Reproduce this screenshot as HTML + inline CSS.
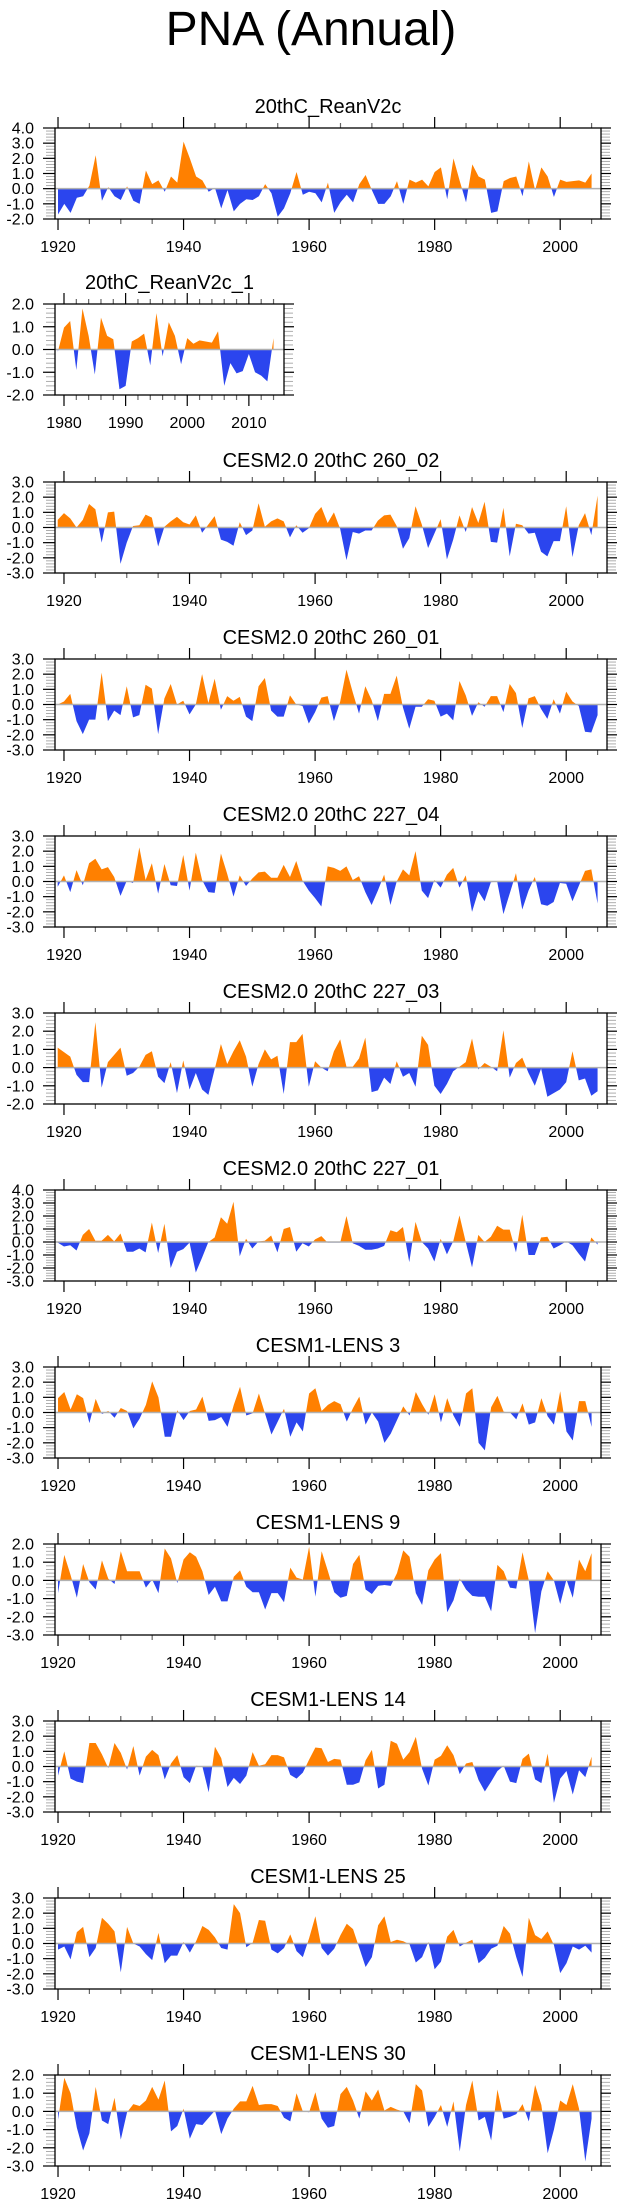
<!DOCTYPE html>
<html><head><meta charset="utf-8"><style>
body{margin:0;background:#fff;}
svg{display:block;font-family:"Liberation Sans",Arial,sans-serif;}
</style></head><body>
<svg id="chart" width="623" height="2208" viewBox="0 0 623 2208" xmlns="http://www.w3.org/2000/svg">
<text x="311" y="45" font-size="48" text-anchor="middle">PNA (Annual)</text>
</svg>
<script>
const titles=["20thC_ReanV2c","20thC_ReanV2c_1","CESM2.0 20thC 260_02","CESM2.0 20thC 260_01","CESM2.0 20thC 227_04","CESM2.0 20thC 227_03","CESM2.0 20thC 227_01","CESM1-LENS 3","CESM1-LENS 9","CESM1-LENS 14","CESM1-LENS 25","CESM1-LENS 30"];
const startYears=[1920,1979,1919,1919,1919,1919,1919,1920,1920,1920,1920,1920];
const yMins=[-2,-2,-3,-3,-3,-2,-3,-3,-3,-3,-3,-3];
const yMaxs=[4,2,3,3,3,3,4,3,2,3,3,2];
const xTickYears=[[1920,1940,1960,1980,2000],[1980,1990,2000,2010],[1920,1940,1960,1980,2000],[1920,1940,1960,1980,2000],[1920,1940,1960,1980,2000],[1920,1940,1960,1980,2000],[1920,1940,1960,1980,2000],[1920,1940,1960,1980,2000],[1920,1940,1960,1980,2000],[1920,1940,1960,1980,2000],[1920,1940,1960,1980,2000],[1920,1940,1960,1980,2000]];
const xDomains=[[1919.52,2006.5],[1978.54,2015.7],[1918.57,2006.5],[1918.57,2006.5],[1918.57,2006.5],[1918.57,2006.5],[1918.57,2006.5],[1919.52,2006.5],[1919.52,2006.5],[1919.52,2006.5],[1919.52,2006.5],[1919.52,2006.5]];
const s1=[-1.7,-1.0,-1.6,-0.6,-0.5,0.2,2.2,-0.8,0.1,-0.5,-0.75,0.15,-0.8,-1.0,1.2,0.3,0.55,-0.2,0.8,0.4,3.1,2.0,0.8,0.55,-0.2,0.05,-1.3,-0.1,-1.5,-1.0,-0.7,-0.75,-0.5,0.3,-0.3,-1.85,-1.3,-0.3,1.1,-0.4,-0.2,-0.3,-0.9,0.4,-1.6,-0.9,-0.4,-0.9,0.3,0.9,-0.1,-1.0,-1.0,-0.5,0.5,-1.0,0.6,0.4,0.6,0.15,1.1,1.4,-0.7,2.0,0.5,-0.9,1.6,0.8,0.6,-1.6,-1.5,0.5,0.7,0.8,-0.5,1.8,-0.1,1.4,0.8,-0.55,0.6,0.45,0.5,0.55,0.4,1.0];
const s2=[-0.1,0.96,1.25,-0.9,1.8,0.6,-1.1,1.4,0.6,0.45,-1.75,-1.6,0.35,0.5,0.7,-0.7,1.6,-0.3,1.2,0.6,-0.65,0.5,0.25,0.4,0.35,0.3,0.8,-1.6,-0.6,-1.05,-0.95,-0.2,-1.0,-1.15,-1.4,0.5];
const s3=[0.5,0.95,0.6,0.0,0.5,1.55,1.2,-1.0,1.0,1.05,-2.4,-1.0,0.1,0.15,0.85,0.65,-1.25,0.05,0.4,0.7,0.35,0.2,0.8,-0.35,0.2,0.75,-0.8,-0.95,-1.2,0.35,-0.5,-0.2,1.6,0.05,0.4,0.6,0.4,-0.65,0.15,-0.35,-0.05,0.9,1.35,0.3,1.0,-0.1,-2.15,-0.3,-0.4,-0.2,-0.2,0.45,0.8,0.85,0.1,-1.4,-0.7,1.4,0.2,-1.35,-0.4,0.55,-2.1,-0.8,0.8,-0.3,1.35,0.3,1.7,-0.95,-1.0,1.3,-1.9,0.25,0.15,-0.4,-0.35,-1.6,-1.9,-0.9,-0.9,1.4,-1.95,0.15,0.95,-0.5,2.1];
const s4=[0.0,0.2,0.7,-1.1,-1.95,-1.0,-1.0,2.1,-1.1,-0.4,-0.7,1.2,-0.85,-0.7,1.3,1.05,-1.95,0.4,1.35,0.0,0.25,-0.65,0.0,2.0,0.1,1.7,-0.35,0.55,0.25,0.5,-0.8,-1.1,1.2,1.75,-0.4,-0.8,-0.8,0.6,0.0,-0.1,-1.25,-0.5,0.45,0.55,-1.1,0.2,2.3,0.8,-0.6,1.2,0.3,-1.1,0.7,0.7,1.9,-0.2,-1.6,-0.15,-0.15,0.35,0.25,-0.8,-0.6,-1.05,1.55,0.6,-0.75,0.15,-0.15,0.55,0.55,-0.5,1.35,0.75,-1.55,0.4,0.55,-0.3,-0.95,0.35,-0.6,0.85,0.2,-0.1,-1.8,-1.85,-0.7];
const s5=[-0.35,0.4,-0.7,0.75,-0.25,1.2,1.5,0.8,0.95,0.3,-0.95,0.05,-0.1,2.25,0.1,1.2,-0.8,1.15,-0.25,-0.3,1.75,-0.6,1.9,0.1,-0.7,-0.75,1.85,0.5,-1.0,0.4,-0.3,0.2,0.6,0.65,0.25,0.25,1.1,0.3,1.35,0.05,-0.6,-1.1,-1.65,1.0,0.9,0.7,1.0,0.1,0.35,-0.7,-1.55,-0.6,0.45,-1.55,0.0,0.8,0.4,2.0,-0.6,-1.1,0.1,-0.4,0.45,0.9,-0.4,0.4,-2.0,-0.65,-1.3,-0.05,0.0,-2.15,-0.8,0.55,-1.85,-0.6,0.3,-1.5,-1.6,-1.35,-0.1,-0.15,-1.3,-0.3,0.7,0.8,-1.45];
const s6=[1.1,0.85,0.6,-0.4,-0.8,-0.8,2.5,-1.1,0.3,0.7,1.1,-0.45,-0.3,0.05,0.7,0.9,-0.5,-0.85,0.3,-1.4,0.4,-1.2,-0.3,-1.2,-1.5,-0.1,1.3,0.2,0.9,1.5,0.6,-1.05,0.2,1.0,0.45,0.65,-1.45,1.4,1.4,1.85,-1.05,0.35,0.0,-0.2,0.9,1.55,0.05,0.05,0.5,1.65,-1.35,-1.25,-0.55,-0.9,0.35,-0.5,-0.3,-1.05,1.75,1.25,-1.0,-1.45,-0.9,-0.2,0.05,0.3,1.6,-0.1,0.25,0.05,-0.2,2.05,-0.55,0.25,0.55,-0.3,-1.0,-0.05,-1.6,-1.4,-1.2,-0.8,0.9,-0.7,-0.6,-1.55,-1.3];
const s7=[-0.05,-0.35,-0.25,-0.65,0.55,1.0,0.1,0.1,0.55,0.05,0.65,-0.75,-0.75,-0.5,-0.8,1.5,-0.85,1.4,-2.0,-0.75,-0.55,-0.05,-2.35,-1.2,0.0,0.35,1.9,1.4,3.1,-1.1,0.25,-0.5,0.05,0.1,0.5,-0.8,1.0,1.15,-0.75,-0.1,-0.35,0.2,0.45,-0.05,-0.05,-0.05,2.0,-0.1,-0.3,-0.6,-0.6,-0.5,-0.3,0.9,0.75,1.15,-1.55,1.55,0.0,-0.5,-1.5,0.25,-0.95,0.05,2.05,0.0,-1.95,0.55,0.0,0.4,1.25,0.95,0.95,-0.8,2.1,-1.0,-1.0,0.35,0.4,-0.5,-0.25,0.05,-0.25,-0.9,-1.5,0.35,-0.2];
const s8=[0.95,1.35,0.2,1.2,0.95,-0.7,0.9,-0.1,0.1,-0.35,0.3,0.1,-1.05,-0.4,0.5,2.05,1.0,-1.6,-1.6,0.15,-0.5,0.1,0.2,1.05,-0.55,-0.5,-0.3,-0.95,0.5,1.7,-0.2,-0.05,1.25,-0.1,-1.45,-0.6,0.25,-1.6,-0.65,-1.25,1.25,1.6,0.1,0.5,0.75,0.55,-0.6,0.3,1.05,-0.8,0.0,-0.6,-2.0,-1.4,-0.5,0.4,-0.2,1.35,0.55,-0.15,1.2,-0.65,0.95,-0.2,-0.95,1.25,1.6,-2.0,-2.5,0.35,1.1,0.05,0.0,-0.45,0.6,-0.8,-0.65,0.95,-0.25,-0.8,1.4,-1.25,-1.85,0.75,0.75,-0.95];
const s9=[-0.7,1.4,0.3,-0.95,0.9,-0.1,-0.5,1.1,0.1,-0.2,1.6,0.5,0.5,0.5,-0.4,0.05,-0.7,1.75,1.2,-0.15,1.15,1.55,1.3,0.5,-0.8,-0.35,-1.15,-1.15,0.2,0.55,-0.35,-0.65,-0.65,-1.6,-0.7,-0.7,-1.2,0.7,0.15,0.05,1.85,-0.9,1.6,0.5,-0.65,-0.95,-0.85,0.9,1.4,-0.5,-0.75,-0.3,-0.25,-0.3,0.4,1.65,1.3,-0.7,-1.35,0.55,1.15,1.5,-1.75,-1.1,0.1,-0.5,-0.85,-0.9,-0.9,-1.7,0.85,0.5,-0.4,-0.45,1.55,0.0,-2.9,-0.6,0.5,0.0,-1.3,0.05,-0.95,1.15,0.5,1.5];
const s10=[-0.6,1.0,-0.8,-1.0,-1.1,1.55,1.55,0.8,-0.1,1.55,0.9,-0.2,1.35,-0.6,0.65,1.1,0.75,-0.85,0.2,0.75,-0.7,-1.1,0.05,0.0,-1.7,1.3,0.55,-1.35,-0.75,-1.15,-0.6,0.95,0.05,0.15,0.75,0.75,0.6,-0.55,-0.8,-0.4,0.45,1.25,1.2,0.3,0.5,0.45,-1.2,-1.2,-1.05,0.4,1.1,-1.45,-1.2,1.7,1.5,0.45,0.95,1.95,-0.15,-1.25,0.45,0.7,1.4,0.75,-0.5,0.2,0.3,-0.9,-1.65,-1.0,-0.3,0.05,-1.0,-1.1,0.5,0.85,-0.85,-1.1,0.85,-2.4,-0.8,-0.3,-1.85,-0.25,-0.7,0.65];
const s11=[-0.4,-0.2,-1.05,0.75,1.1,-0.9,-0.3,1.7,1.3,0.8,-1.9,1.1,0.0,-0.2,-0.7,-1.1,0.7,-1.3,-0.8,-0.8,0.1,-0.6,0.15,1.15,0.9,0.4,-0.3,-0.4,2.6,2.0,-0.25,0.05,1.55,1.5,-0.4,-0.65,-0.3,0.6,-0.5,-0.9,0.35,1.8,-0.3,-0.8,-0.35,0.55,1.3,0.95,-0.3,-1.55,-0.9,1.2,1.8,0.1,0.25,0.15,-0.05,-1.25,-0.9,0.1,-1.7,-1.2,0.45,0.9,-0.2,0.05,0.25,-1.3,-0.95,-0.35,-0.15,1.15,0.65,-0.9,-2.2,1.7,0.55,0.3,0.8,-0.1,-1.95,-1.3,-0.2,-0.4,-0.15,-0.6];
const s12=[-0.45,1.85,1.0,-0.9,-2.15,-1.2,1.35,-0.5,-0.7,0.75,-1.55,-0.05,0.4,0.3,0.6,1.35,0.65,1.7,-1.1,-0.8,0.15,-1.5,-0.7,-0.75,-0.35,0.05,-1.25,-0.4,0.15,0.55,0.55,1.4,0.35,0.4,0.4,0.3,-0.35,-0.55,1.0,0.0,-0.05,1.05,-0.4,-0.9,-0.8,0.95,1.35,0.6,-0.4,1.1,0.6,1.2,0.05,0.25,0.1,0.0,-0.65,1.5,1.15,-0.85,-0.3,0.35,-0.85,0.55,-2.2,0.35,1.7,-0.5,-0.3,-1.6,1.2,-0.4,-0.3,-0.15,0.4,-0.55,1.45,0.35,-2.3,-1.0,0.6,0.35,1.5,0.15,-2.75,-0.4];
const series=[s1,s2,s3,s4,s5,s6,s7,s8,s9,s10,s11,s12];

const NS="http://www.w3.org/2000/svg";
const svg=document.getElementById('chart');
function mk(tag,attrs,parent){const e=document.createElementNS(NS,tag);for(const k in attrs)e.setAttribute(k,attrs[k]);(parent||svg).appendChild(e);return e;}
const boxTops=[128,304,482,659,836,1013,1190,1367,1544,1721,1898,2075];
const boxH=91;
function boxRight(i){return i===1?284:(i>=2&&i<=6?607:601);}
for(let i=0;i<12;i++){
  const L=55,R=boxRight(i),T=boxTops[i],B=T+boxH;
  const [x0,x1]=xDomains[i];
  const xs=v=>L+(v-x0)/(x1-x0)*(R-L);
  const ys=v=>B-(v-yMins[i])/(yMaxs[i]-yMins[i])*(B-T);
  const g=mk('g',{});
  
  
  const tt=mk('text',{x:(L+R)/2,y:T-15,'font-size':20,'text-anchor':'middle'},g);
  
  
  tt.textContent=titles[i];
  const d=series[i];const y0=ys(0);
  let pts=xs(startYears[i]).toFixed(2)+','+y0.toFixed(2);
  d.forEach((v,k)=>{pts+=' '+xs(startYears[i]+k).toFixed(2)+','+ys(v).toFixed(2);});
  pts+=' '+xs(startYears[i]+d.length-1).toFixed(2)+','+y0.toFixed(2);
  const cpA=mk('clipPath',{id:'ca'+i},g);mk('rect',{x:L,y:T,width:R-L,height:y0-T},cpA);
  const cpB=mk('clipPath',{id:'cb'+i},g);mk('rect',{x:L,y:y0,width:R-L,height:B-y0},cpB);
  const pa=mk('polygon',{points:pts,fill:'#ff8000','clip-path':'url(#ca'+i+')'},g);
  
  
  const pb=mk('polygon',{points:pts,fill:'#2b45ee','clip-path':'url(#cb'+i+')'},g);
  
  
  const zl=mk('line',{x1:L,x2:R,y1:y0,y2:y0,stroke:'#b0b0b0','stroke-width':1.5},g);
  
  
  for(let v=yMins[i];v<=yMaxs[i]+1e-6;v+=0.2){const y=ys(v);
    mk('line',{x1:L-9,x2:L,y1:y,y2:y,stroke:'#999','stroke-width':0.8},g);
    mk('line',{x1:R,x2:R+9,y1:y,y2:y,stroke:'#999','stroke-width':0.8},g);}
  for(let v=yMins[i];v<=yMaxs[i]+1e-6;v+=1){const y=ys(v);
    mk('line',{x1:L-12,x2:L,y1:y,y2:y,stroke:'#000','stroke-width':1.2},g);
    mk('line',{x1:R,x2:R+10,y1:y,y2:y,stroke:'#000','stroke-width':1.2},g);
    const tl=mk('text',{x:34,y:y+5.5,'font-size':16,'text-anchor':'end'},g);
    
    
    tl.textContent=v.toFixed(1);}
  const step=i===1?2:5;
  for(let yr=Math.ceil(x0/step)*step;yr<=x1;yr+=step){const x=xs(yr);
    const major=xTickYears[i].includes(yr);
    const len=major?11:5;
    mk('line',{x1:x,x2:x,y1:T-len,y2:T,stroke:major?'#000':'#666','stroke-width':1.2},g);
    mk('line',{x1:x,x2:x,y1:B,y2:B+len,stroke:major?'#000':'#666','stroke-width':1.2},g);}
  xTickYears[i].forEach(yr=>{const xl=mk('text',{x:xs(yr),y:B+33,'font-size':16,'text-anchor':'middle'},g);
    
    
    xl.textContent=yr;});
  const bx=mk('rect',{x:L,y:T,width:R-L,height:B-T,fill:'none',stroke:'#000','stroke-width':1.3},g);
  
  
}
</script>
</body></html>
